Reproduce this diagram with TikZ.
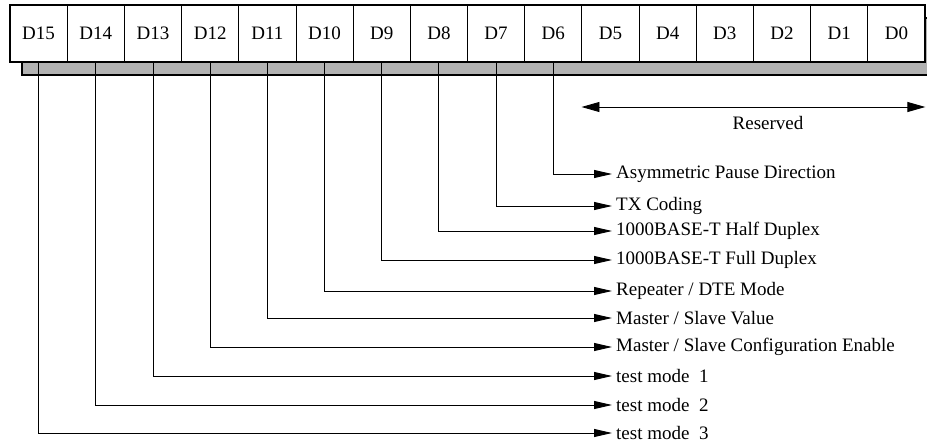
\documentclass[tikz,border=0pt]{standalone}
\usepackage{fontspec}
\setmainfont{Liberation Serif}
\usetikzlibrary{arrows.meta}
\tikzset{
  cell/.style={draw, line width=0.8pt, fill=white, minimum width=57.1875pt,
    minimum height=57pt, inner sep=0pt, font=\fontsize{19}{22}\selectfont},
  leader/.style={line width=0.9pt, -{Triangle[length=18pt,width=8pt]}},
  field/.style={anchor=west, inner sep=4pt, font=\fontsize{19}{22}\selectfont},
  span/.style={line width=0.9pt, {Triangle[length=18pt,width=10pt]}-{Triangle[length=18pt,width=10pt]}}
}
\begin{document}
\begin{tikzpicture}[x=1pt,y=-1pt]
\useasboundingbox (0,0) rectangle (927,444);
\begin{scope}
\clip (0,0) rectangle (927,444);
\filldraw[fill=black!30, line width=2pt] (22,18) rectangle (945,75); % shadow
\end{scope}
% register bits
\foreach \i in {15,...,0}
  \node[cell] (d\i) at ({38.59+(15-\i)*57.1875},33.5) {D\i};
\draw[line width=2pt] (d15.north west) rectangle (d0.south east);
% reserved bits
\coordinate (rsvL) at (d5.south west |- 0,107);
\coordinate (rsvR) at (d0.south east |- 0,107);
\draw[span] (rsvL) -- (rsvR);
\node[font=\fontsize{19}{22}\selectfont] (rsv) at (768,123) {Reserved};
% bit fields
\foreach \i/\y/\txt in {6/174/{Asymmetric Pause Direction}, 7/206/{TX Coding},
    8/231/{1000BASE-T Half Duplex}, 9/260/{1000BASE-T Full Duplex},
    10/291/{Repeater / DTE Mode}, 11/318/{Master / Slave Value},
    12/347/{Master / Slave Configuration Enable}, 13/376/{test mode\ \ 1},
    14/405/{test mode\ \ 2}, 15/433/{test mode\ \ 3}}
{
  \node[field] (f\i) at (612,\y) {\txt};
  \draw[leader] (d\i.south) |- (f\i.west);
}
\end{tikzpicture}
\end{document}
